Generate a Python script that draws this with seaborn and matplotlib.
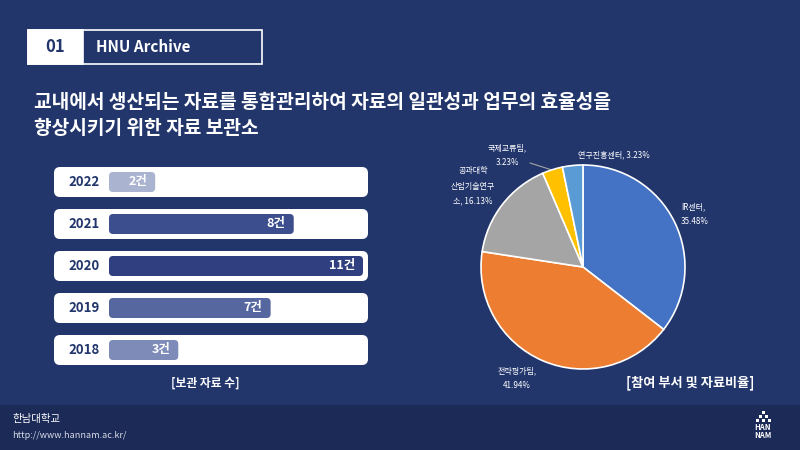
import matplotlib
matplotlib.use('Agg')
import matplotlib.pyplot as plt
import seaborn as sns
import pandas as pd
from matplotlib.patches import FancyBboxPatch, Rectangle

sns.set_theme(style='white')
plt.rcParams['font.family'] = ['Noto Sans CJK KR', 'DejaVu Sans']

# data
years = ['2022', '2021', '2020', '2019', '2018']
counts = [2, 8, 11, 7, 3]
bar_colors = ['#aab3cf', '#3c4e8d', '#2f3f7f', '#56679f', '#7e8bb8']

depts = ['IR센터', '전략평가팀', '공과대학\n산업기술연구\n소', '국제교류팀', '연구진흥센터']
dept_counts = [11, 13, 5, 1, 1]
pie_colors = ['#4472c4', '#ed7d31', '#a5a5a5', '#ffc000', '#5b9bd5']

BG = '#22366c'
FOOT = '#1b2a57'
NAVY = '#22366c'

fig = plt.figure(figsize=(8, 4.5), dpi=100)
fig.patch.set_facecolor(BG)

# pixel canvas for decorations
bg = fig.add_axes([0, 0, 1, 1])
bg.set_xlim(0, 800)
bg.set_ylim(450, 0)
bg.axis('off')
bg.set_zorder(0)

# header box
bg.add_patch(Rectangle((28, 30), 234, 34, fill=False, ec='white', lw=1.2))
bg.add_patch(Rectangle((28, 30), 55, 34, fc='white', ec='white', lw=1.2))
bg.text(55, 47.5, '01', color=NAVY, fontsize=12, fontweight='bold', ha='center', va='center')
bg.text(96, 47.5, 'HNU Archive', color='white', fontsize=11, fontweight='bold', va='center')

# title
bg.text(34, 103, '교내에서 생산되는 자료를 통합관리하여 자료의 일관성과 업무의 효율성을',
        color='white', fontsize=13.8, fontweight='bold', va='center')
bg.text(34, 129, '향상시키기 위한 자료 보관소',
        color='white', fontsize=13.8, fontweight='bold', va='center')

# row backgrounds
for i in range(len(years)):
    cy = 182 + 42 * i
    bg.add_patch(FancyBboxPatch((54, cy - 15), 314, 30,
                                boxstyle='round,pad=0,rounding_size=6',
                                fc='white', ec='none'))

bg.text(205, 383, '[보관 자료 수]', color='white', fontsize=8.5,
        fontweight='bold', ha='center', va='center')
bg.text(690, 383, '[참여 부서 및 자료비율]', color='white', fontsize=9.5,
        fontweight='bold', ha='center', va='center')

# footer
bg.add_patch(Rectangle((0, 405), 800, 45, fc=FOOT, ec='none'))
bg.text(12, 419, '한남대학교', color='white', fontsize=7.5, va='center')
bg.text(12, 436, 'http://www.hannam.ac.kr/', color='#d8dbe6', fontsize=6.5, va='center')
# logo
for cx, cy in [(763, 412), (760, 416), (766, 416), (757, 420), (763, 420), (769, 420)]:
    bg.add_patch(Rectangle((cx - 1.5, cy - 1.5), 3, 3, fc='white', ec='none'))
bg.text(763, 428, 'HAN', color='white', fontsize=5.5, fontweight='bold', ha='center', va='center')
bg.text(763, 436, 'NAM', color='white', fontsize=5.5, fontweight='bold', ha='center', va='center')

# bar chart
bx0, bw = 109, 260
ax = fig.add_axes([bx0 / 800, (450 - 371) / 450, bw / 800, 210 / 450])
ax.set_zorder(1)
ax.patch.set_alpha(0)
df = pd.DataFrame({'year': years, 'count': counts})
sns.barplot(data=df, x='count', y='year', hue='year', palette=bar_colors,
            legend=False, width=20 / 42, saturation=1, ax=ax)
xmax = 11 * bw / 254
ax.set_xlim(0, xmax)
ax.set_ylim(4.5, -0.5)
ax.axis('off')

px_per_x = bw / xmax
rx = 4 / px_per_x
for p in list(ax.patches):
    x, y, w, h = p.get_x(), p.get_y(), p.get_width(), p.get_height()
    fc = p.get_facecolor()
    p.remove()
    ax.add_patch(FancyBboxPatch((x, y), w, h,
                                boxstyle=f'round,pad=0,rounding_size={rx}',
                                mutation_aspect=(4 / 42) / rx,
                                fc=fc, ec='none'))

for i, (yr, v) in enumerate(zip(years, counts)):
    ax.text(v - 8 / px_per_x, i, f'{v}건', color='white', fontsize=9,
            fontweight='bold', ha='right', va='center')
    ax.text(-41 / px_per_x, i, yr, color=NAVY, fontsize=9.5,
            fontweight='bold', ha='left', va='center', clip_on=False)

# pie chart
r = 102
pax = fig.add_axes([(583 - r) / 800, (450 - 267 - r) / 450, 2 * r / 800, 2 * r / 450])
pax.set_zorder(1)
pax.pie(dept_counts, colors=pie_colors, startangle=90, counterclock=False,
        wedgeprops=dict(edgecolor='white', linewidth=1.2))
pax.set_xlim(-1, 1)
pax.set_ylim(-1, 1)
pax.set_aspect('equal')

total = sum(dept_counts)
pct = [f'{c / total * 100:.2f}%' for c in dept_counts]
lab_fs = 5.8
bg.text(681, 214, f'{depts[0]},\n{pct[0]}', color='white', fontsize=lab_fs,
        ha='left', va='center', linespacing=1.9)
bg.text(517, 378, f'{depts[1]},\n{pct[1]}', color='white', fontsize=lab_fs,
        ha='center', va='center', linespacing=1.9)
bg.text(473, 186, f'{depts[2]}, {pct[2]}', color='white', fontsize=lab_fs,
        ha='center', va='center', linespacing=1.9)
bg.text(507, 155, f'{depts[3]},\n{pct[3]}', color='white', fontsize=lab_fs,
        ha='center', va='center', linespacing=1.9)
bg.text(614, 155, f'{depts[4]}, {pct[4]}', color='white', fontsize=lab_fs,
        ha='center', va='center')
bg.plot([530, 552], [163, 170], color='#a5a5a5', lw=0.8)

fig.savefig('out.png', dpi=100, facecolor=fig.get_facecolor())
